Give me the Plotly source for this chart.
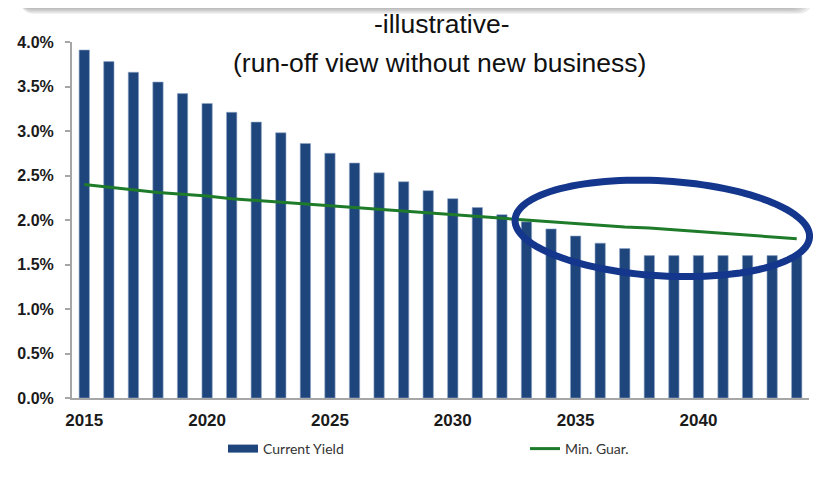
import numpy as np
import plotly.graph_objects as go

# ---- data ----
years = [str(y) for y in range(2015, 2045)]
current_yield = [3.91, 3.78, 3.66, 3.55, 3.42, 3.31, 3.21, 3.10, 2.98, 2.86,
                 2.75, 2.64, 2.53, 2.43, 2.33, 2.24, 2.14, 2.06, 1.98, 1.90,
                 1.82, 1.74, 1.68, 1.60, 1.60, 1.60, 1.60, 1.60, 1.60, 1.60]
min_guar = [2.40, 2.37, 2.34, 2.31, 2.29, 2.27, 2.24, 2.22, 2.20, 2.18,
            2.16, 2.14, 2.12, 2.10, 2.08, 2.06, 2.04, 2.02, 2.00, 1.98,
            1.96, 1.94, 1.92, 1.91, 1.89, 1.87, 1.85, 1.83, 1.81, 1.79]
x_tick_labels = ["2015", "2020", "2025", "2030", "2035", "2040"]
y_ticks = [0.0, 0.5, 1.0, 1.5, 2.0, 2.5, 3.0, 3.5, 4.0]
y_tick_labels = ["0.0%", "0.5%", "1.0%", "1.5%", "2.0%", "2.5%", "3.0%", "3.5%", "4.0%"]
title_line1 = "-illustrative-"
title_line2 = "(run-off view without new business)"

# ---- layout geometry (pixels) ----
# the page body adds an 8px offset; figure coordinates = screen coordinates - OFF
OFF = 8
W, H = 821 - OFF, 477 - OFF
ML, MT = 72 - OFF, 42 - OFF
PW, PH = 737, 356
MR, MB = W - ML - PW, H - MT - PH

BLUE = "#1F467C"
GREEN = "#1E7B2A"
RING = "#14368C"
AXIS = "#A6A6A6"


def px(xs):
    return (xs - OFF - ML) / PW


def py(ys):
    return (MT + PH - (ys - OFF)) / PH


def path_from_points(pts, close=True):
    s = "M{:.5f},{:.5f}".format(px(pts[0][0]), py(pts[0][1]))
    for x, y in pts[1:]:
        s += " L{:.5f},{:.5f}".format(px(x), py(y))
    if close:
        s += " Z"
    return s


def rounded_rect(x0, y0, x1, y1, r, n=8):
    pts = []
    corners = [(x1 - r, y1 - r, 0), (x0 + r, y1 - r, 90), (x0 + r, y0 + r, 180), (x1 - r, y0 + r, 270)]
    for cx, cy, a0 in corners:
        for k in range(n + 1):
            a = np.radians(a0 + 90 * k / n)
            pts.append((cx + r * np.cos(a), cy + r * np.sin(a)))
    return path_from_points(pts)


fig = go.Figure()
fig.add_trace(go.Bar(
    x=years, y=current_yield, name="Current Yield",
    marker=dict(color=BLUE, line=dict(width=0.6, color="#8FA6C6")),
    showlegend=False, legendgroup="cy",
))
fig.add_trace(go.Scatter(
    x=[None], y=[None], mode="lines", name="Current Yield",
    line=dict(color=BLUE, width=8), legendgroup="cy", hoverinfo="skip",
    legend="legend",
))
fig.add_trace(go.Scatter(
    x=years, y=min_guar, mode="lines", name="Min. Guar.",
    line=dict(color=GREEN, width=3), legend="legend2",
))

shapes = []
# top decorative box with shadow
for k in range(8):
    shapes.append(dict(
        type="path", xref="paper", yref="paper", layer="above",
        path=rounded_rect(16 + k * 0.5, -40, 796 + k * 2.4, 4 + k * 1.4, 14),
        fillcolor="rgba(80,80,80,0.10)", line=dict(width=0),
    ))
shapes.append(dict(
    type="path", xref="paper", yref="paper", layer="above",
    path=rounded_rect(14, -40, 790, 4, 14),
    fillcolor="#FFFFFF", line=dict(width=1.2, color="#BFC4D0"),
))

# highlight ellipse
cx, cy, a, b, th = 662.3, 228.4, 147.5, 47.5, np.radians(3.4)
t = np.linspace(0, 2 * np.pi, 121)
ex = cx + a * np.cos(t) * np.cos(th) - b * np.sin(t) * np.sin(th)
ey = cy + a * np.cos(t) * np.sin(th) + b * np.sin(t) * np.cos(th)
shapes.append(dict(
    type="path", xref="paper", yref="paper", layer="above",
    path=path_from_points(list(zip(ex, ey))),
    line=dict(color=RING, width=7), fillcolor="rgba(0,0,0,0)",
))

annotations = [
    dict(text=title_line1, xref="paper", yref="paper", x=px(441), y=py(24),
         xanchor="center", yanchor="middle", showarrow=False,
         font=dict(family="Liberation Sans, Arial", size=26.5, color="#111111")),
    dict(text=title_line2, xref="paper", yref="paper", x=px(439), y=py(63),
         xanchor="center", yanchor="middle", showarrow=False,
         font=dict(family="Liberation Sans, Arial", size=26.5, color="#111111")),
]

legend_common = dict(
    orientation="h", yanchor="middle", y=py(449),
    font=dict(family="Lato, Noto Sans", size=14, color="#333333"),
    bgcolor="rgba(0,0,0,0)", itemclick=False, itemdoubleclick=False,
)

fig.update_layout(
    width=W, height=H,
    margin=dict(l=ML, r=MR, t=MT, b=MB, autoexpand=False),
    paper_bgcolor="white", plot_bgcolor="white",
    bargap=0.58,
    shapes=shapes, annotations=annotations,
    showlegend=True,
    legend=dict(x=px(223), xanchor="left", **legend_common),
    legend2=dict(x=px(525), xanchor="left", **legend_common),
    xaxis=dict(
        type="category", categoryorder="array", categoryarray=years,
        range=[-0.5, len(years) - 0.5],
        tickmode="array", tickvals=x_tick_labels, ticktext=x_tick_labels,
        showline=True, linecolor=AXIS, linewidth=2, ticks="",
        showgrid=False, zeroline=False, ticklabelstandoff=6,
        tickfont=dict(family="Liberation Sans, Arial", size=17, color="#1A1A1A", weight="bold"),
    ),
    yaxis=dict(
        range=[0, 4.0], tickmode="array", tickvals=y_ticks, ticktext=y_tick_labels,
        showline=True, linecolor=AXIS, linewidth=2,
        ticks="outside", ticklen=5, tickcolor=AXIS, tickwidth=1.5,
        showgrid=False, zeroline=False, ticklabelstandoff=8,
        tickfont=dict(family="Liberation Sans, Arial", size=16, color="#1A1A1A", weight="bold"),
    ),
)

fig.write_html("out.html")
